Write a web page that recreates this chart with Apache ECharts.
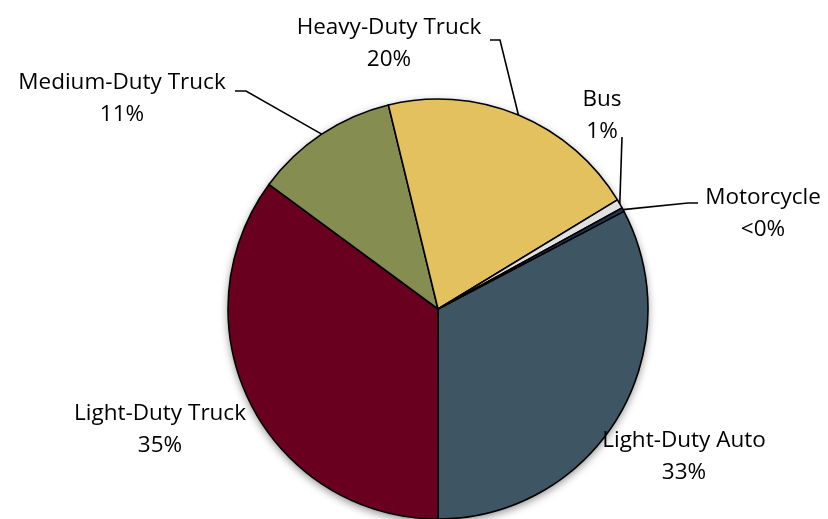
<!DOCTYPE html>
<html>
<head>
<meta charset="utf-8">
<script src="https://cdn.jsdelivr.net/npm/echarts@6/dist/echarts.min.js"></script>
<style>
  html, body { margin: 0; padding: 0; background: #ffffff; }
  #chart { width: 828px; height: 519px; }
</style>
</head>
<body>
<div id="chart"></div>
<script>
// Vehicle classes and their shares (percent), clockwise from the Light-Duty Auto slice
const categories = ['Light-Duty Auto', 'Light-Duty Truck', 'Medium-Duty Truck', 'Heavy-Duty Truck', 'Bus', 'Motorcycle'];
const shares = [32.7, 35.1, 11.1, 20.1, 0.7, 0.3];

const sliceColors = ['#3e5564', '#690020', '#868d50', '#e2c15e', '#e0e0e0', '#1f3450'];

const CENTER = [438, 309];
const RADIUS = 210;

// Label placement: text block centre, and where the leader line bends / ends
const labelSpots = {
  'Light-Duty Auto':   { x: 684, y: 456.5 },
  'Light-Duty Truck':  { x: 160, y: 429.5 },
  'Medium-Duty Truck': { x: 122, y: 99,    bend: [246, 91],  end: [235, 91] },
  'Heavy-Duty Truck':  { x: 389, y: 43.5,  bend: [500, 40],  end: [490, 40] },
  'Bus':               { x: 602, y: 116,   bend: [622, 137], end: [622, 137] },
  'Motorcycle':        { x: 763, y: 214,   bend: [688, 203], end: [698, 203] }
};

const total = shares.reduce((a, b) => a + b, 0);

function pctText(v) {
  const p = Math.round(v / total * 100);
  return p < 1 ? '<0%' : p + '%';
}

const chart = echarts.init(document.getElementById('chart'), null, { renderer: 'canvas' });

const pieData = categories.map((name, i) => ({
  name: name,
  value: shares[i],
  itemStyle: { color: sliceColors[i] },
  labelLine: { show: !!labelSpots[name].bend }
}));

chart.setOption({
  animation: false,
  backgroundColor: '#ffffff',
  series: [
    {
      // soft drop shadow under the whole pie
      type: 'pie',
      silent: true,
      z: 1,
      center: CENTER,
      radius: RADIUS,
      startAngle: 27.7,
      label: { show: false },
      labelLine: { show: false },
      data: [{ value: total, itemStyle: { color: '#ffffff', shadowBlur: 8, shadowOffsetX: 0, shadowOffsetY: 3, shadowColor: 'rgba(0,0,0,0.45)' } }]
    },
    {
      type: 'pie',
      z: 2,
      center: CENTER,
      radius: RADIUS,
      startAngle: 27.7,
      clockwise: true,
      avoidLabelOverlap: false,
      itemStyle: { borderColor: '#000000', borderWidth: 1.6 },
      emphasis: { disabled: true },
      label: {
        show: true,
        position: 'outside',
        color: '#000000',
        fontFamily: '"Open Sans", sans-serif',
        fontSize: 22.5,
        lineHeight: 32,
        align: 'center',
        formatter: p => p.name + '\n' + pctText(p.value)
      },
      labelLine: {
        show: true,
        lineStyle: { color: '#000000', width: 1.6 }
      },
      labelLayout: params => {
        const name = categories[params.dataIndex];
        const s = labelSpots[name];
        const out = { x: s.x, y: s.y, align: 'center', verticalAlign: 'middle' };
        if (s.bend) {
          let start;
          if (params.labelLinePoints && params.labelLinePoints[0]) {
            start = params.labelLinePoints[0];
          }
          out.labelLinePoints = [start, s.bend, s.end];
        }
        return out;
      },
      data: pieData
    }
  ]
});
</script>
</body>
</html>
